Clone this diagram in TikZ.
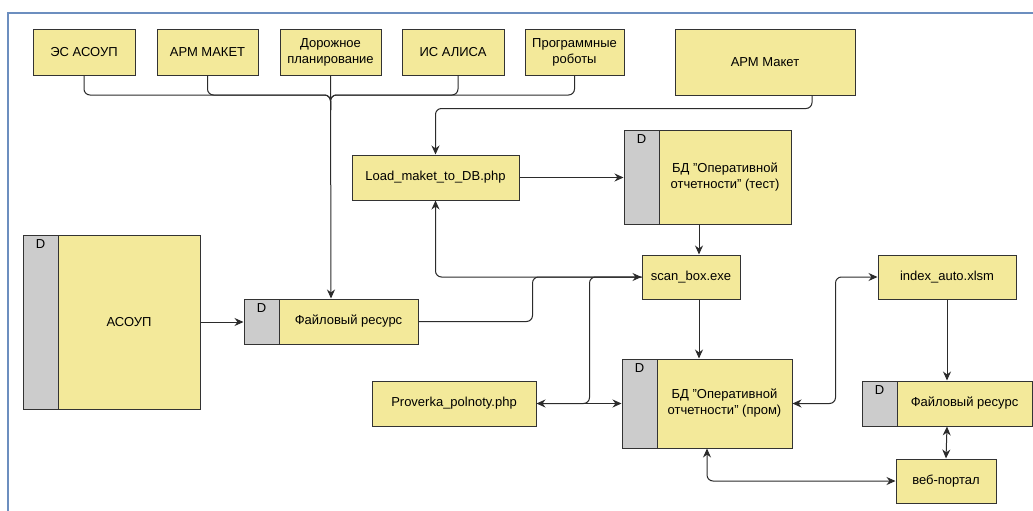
\documentclass[tikz,border=0pt]{standalone}
\usepackage{fontspec}
\setmainfont{Liberation Sans}
\usetikzlibrary{arrows.meta,positioning,calc}

\definecolor{boxfill}{HTML}{F3E99A}
\definecolor{boxline}{HTML}{333333}
\definecolor{stripgray}{HTML}{CCCCCC}
\definecolor{wirecol}{HTML}{2B2B2B}
\definecolor{framecol}{HTML}{6C8EBF}

\tikzset{
  box/.style={draw=boxline, fill=boxfill, line width=1pt, inner sep=0pt},
  store/.style={box, path picture={
      \fill[stripgray] (path picture bounding box.north west) rectangle ([xshift=35pt]path picture bounding box.south west);
      \draw[boxline, line width=1pt] ([xshift=35pt]path picture bounding box.north west) -- ([xshift=35pt]path picture bounding box.south west);
      \node[anchor=north, inner sep=0pt, minimum width=0pt, minimum height=0pt]
        at ([xshift=17.5pt,yshift=-4pt]path picture bounding box.north west) {D};}},
  wire/.style={draw=wirecol, line width=1pt, rounded corners=6pt},
  arr/.style={wire, -{Stealth[length=9pt,width=8pt]}},
  darr/.style={wire, {Stealth[length=9pt,width=8pt]}-{Stealth[length=9pt,width=8pt]}},
}

\begin{document}
\begin{tikzpicture}[x=1pt, y=-1pt, every node/.style={font=\fontsize{13}{16}\selectfont, align=center}]
  \useasboundingbox (0,0) rectangle (1033,511);

  % frame
  \draw[framecol, line width=2pt] (8,540) -- (8,13) -- (1060,13);

  % sources on top
  \node[box, minimum width=102pt, minimum height=45pt] (es) at (84,52.5) {ЭС АСОУП};
  \node[box, minimum width=101pt, minimum height=45pt] (armm) at (207.5,52.5) {АРМ МАКЕТ};
  \node[box, minimum width=101pt, minimum height=45pt] (dor) at (330.5,52.5) {Дорожное\\планирование};
  \node[box, minimum width=102pt, minimum height=45pt] (alisa) at (453,52.5) {ИС АЛИСА};
  \node[box, minimum width=99pt, minimum height=45pt] (robots) at (574.5,52.5) {Программные\\роботы};
  \node[box, minimum width=180pt, minimum height=65pt] (arm) at (765,62.5) {АРМ Макет};

  % stores
  \node[store, minimum width=177pt, minimum height=174pt] (asoup) at (111.5,322) {};
  \node (asoupT) at ([xshift=17.5pt]asoup.center) {АСОУП};
  \node[store, minimum width=174pt, minimum height=45pt] (fr) at (331,321.5) {};
  \node (frT) at ([xshift=17.5pt]fr.center) {Файловый ресурс};
  \node[store, minimum width=167pt, minimum height=94pt] (bdt) at (707.5,177) {};
  \node (bdtT) at ([xshift=17.5pt]bdt.center) {БД "Оперативной\\отчетности" (тест)};
  \node[store, minimum width=170pt, minimum height=89pt] (bdp) at (707,403.5) {};
  \node (bdpT) at ([xshift=17.5pt]bdp.center) {БД "Оперативной\\отчетности" (пром)};
  \node[store, minimum width=170pt, minimum height=45pt] (fr2) at (947,403.5) {};
  \node (fr2T) at ([xshift=17.5pt]fr2.center) {Файловый ресурс};

  % programs
  \node[box, minimum width=167pt, minimum height=45pt] (load) at (435.5,177.5) {Load\_maket\_to\_DB.php};
  \node[box, minimum width=98pt, minimum height=44pt] (scan) at (691,277) {scan\_box.exe};
  \node[box, minimum width=164pt, minimum height=45pt] (prov) at (454,403.5) {Proverka\_polnoty.php};
  \node[box, minimum width=138pt, minimum height=44pt] (index) at (947,277) {index\_auto.xlsm};
  \node[box, minimum width=100pt, minimum height=44pt] (web) at (946,481) {веб-портал};

  % bus from the sources
  \coordinate (busjoin) at (330.5,95);
  \coordinate (busdown) at (330.5,110);
  \draw[wire] (es.south) |- (busjoin) -- (busdown);
  \draw[wire] (armm.south) |- (busjoin) -- (busdown);
  \draw[wire] ([xshift=5pt]alisa.south) |- (busjoin) -- (busdown);
  \draw[wire] (robots.south) |- (busjoin) -- (busdown);
  \draw[arr] (dor.south) -- (fr.north);

  % arm maket to load
  \draw[arr] ([xshift=47pt]arm.south) -- ++(0,13) -| (load.north);
  \draw[arr] (load.east) -- (load.east -| bdt.west);
  \draw[arr] ([xshift=8pt]scan.north |- bdt.south) -- ([xshift=8pt]scan.north);

  % into and out of scan_box
  \draw[arr] (asoup.east) -- (asoup.east -| fr.west);
  \draw[arr] (fr.east) -- ++(114,0) |- (scan.west);
  \draw[arr] (scan.west) -| (load.south);
  \draw[arr] (scan.west) -- ++(-52,0) |- (prov.east);
  \draw[arr] (prov.east) -- (prov.east -| bdp.west);
  \draw[arr] ([xshift=8pt]scan.south) -- ([xshift=8pt]scan.south |- bdp.north);

  % right side
  \draw[darr] (bdp.east) -- ++(43,0) |- (index.west);
  \draw[arr] (index.south) -- (fr2.north);
  \draw[darr] (fr2.south) -- (web.north);
  \draw[darr] (bdp.south) |- (web.west);
\end{tikzpicture}
\end{document}
